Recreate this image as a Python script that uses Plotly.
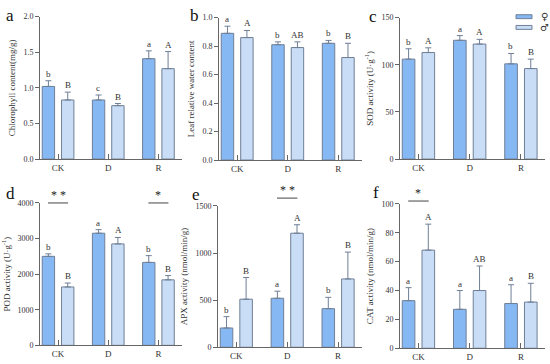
import plotly.graph_objects as go
from plotly.subplots import make_subplots

W, H = 550, 364
FEMALE = "#86b8f4"
MALE = "#c9ddf6"
EDGE = "#6f7f96"
SERIF = "Liberation Serif, Times New Roman, serif"

groups = ["CK", "D", "R"]

chl_f = [1.02, 0.83, 1.41]
chl_f_err = [0.08, 0.07, 0.11]
chl_m = [0.83, 0.75, 1.27]
chl_m_err = [0.11, 0.03, 0.24]

lwc_f = [0.89, 0.81, 0.82]
lwc_f_err = [0.05, 0.02, 0.02]
lwc_m = [0.86, 0.79, 0.72]
lwc_m_err = [0.05, 0.04, 0.10]

sod_f = [106, 126, 101]
sod_f_err = [11, 5, 11]
sod_m = [113, 122, 96]
sod_m_err = [5, 5, 10]

pod_f = [2500, 3150, 2330]
pod_f_err = [70, 100, 190]
pod_m = [1640, 2850, 1840]
pod_m_err = [110, 180, 120]

apx_f = [205, 520, 410]
apx_f_err = [120, 75, 120]
apx_m = [510, 1210, 725]
apx_m_err = [230, 90, 285]

cat_f = [33, 27, 31]
cat_f_err = [9, 13, 13]
cat_m = [68, 40, 32]
cat_m_err = [18, 17, 13]

panels = [
    dict(tag="a", f=chl_f, fe=chl_f_err, m=chl_m, me=chl_m_err,
         lf=["b", "c", "a"], lm=["B", "B", "A"], rng=[0, 2], dt=0.5, fmt=".1f",
         title="Chlorophyll content(mg/g)", sig=[]),
    dict(tag="b", f=lwc_f, fe=lwc_f_err, m=lwc_m, me=lwc_m_err,
         lf=["a", "b", "b"], lm=["A", "AB", "B"], rng=[0, 1], dt=0.2, fmt=".1f",
         title="Leaf relative water content", sig=[]),
    dict(tag="c", f=sod_f, fe=sod_f_err, m=sod_m, me=sod_m_err,
         lf=["b", "a", "b"], lm=["A", "A", "B"], rng=[0, 150], dt=50, fmt="d",
         title="SOD activity (U·g<sup>-1</sup>)", sig=[]),
    dict(tag="d", f=pod_f, fe=pod_f_err, m=pod_m, me=pod_m_err,
         lf=["b", "a", "b"], lm=["B", "A", "B"], rng=[0, 4000], dt=1000, fmt="d",
         title="POD activity (U·g<sup>-1</sup>)", sig=[(0, "* *", 1.0), (2, "*", 1.0)]),
    dict(tag="e", f=apx_f, fe=apx_f_err, m=apx_m, me=apx_m_err,
         lf=["b", "a", "b"], lm=["B", "A", "B"], rng=[0, 1500], dt=500, fmt="d",
         title="APX activity (nmol/min/g)", sig=[(1, "* *", 1.055)]),
    dict(tag="f", f=cat_f, fe=cat_f_err, m=cat_m, me=cat_m_err,
         lf=["a", "a", "a"], lm=["A", "AB", "B"], rng=[0, 100], dt=20, fmt="d",
         title="CAT activity (nmol/min/g)", sig=[(0, "*", 1.02)]),
]

# pixel boxes of each plot area: (left, right, top, bottom)
boxes = [(40, 182, 13, 159), (219, 362, 14, 160), (400, 545, 14, 159),
         (40, 182, 204, 350), (218, 362, 207, 352), (400, 545, 205, 353)]
letter_pos = [(10, 12), (194, 12), (373, 13), (10, 194), (196, 195), (376, 193)]

fig = make_subplots(rows=2, cols=3)
shapes, annots = [], []

for i, p in enumerate(panels):
    r, c = i // 3 + 1, i % 3 + 1
    ax = "" if i == 0 else str(i + 1)
    for vals, errs, col, name in [(p["f"], p["fe"], FEMALE, "♀"), (p["m"], p["me"], MALE, "♂")]:
        fig.add_trace(go.Bar(
            x=groups, y=vals, name=name, marker=dict(color=col, line=dict(color=EDGE, width=1)),
            error_y=dict(type="data", array=errs, arrayminus=[0] * 3, symmetric=False,
                         color=EDGE, thickness=1, width=3),
            showlegend=False), row=r, col=c)
    # significance letters above error bars
    for k, g in enumerate(groups):
        for off, vals, errs, labs in [(-0.195, p["f"], p["fe"], p["lf"]), (0.195, p["m"], p["me"], p["lm"])]:
            annots.append(dict(x=k + off, y=vals[k] + errs[k], xref="x" + ax, yref="y" + ax,
                               text=labs[k], showarrow=False, xanchor="center", yanchor="bottom",
                               font=dict(family=SERIF, size=9, color="#333")))
    for k, star, yy in p["sig"]:
        shapes.append(dict(type="line", xref="x" + ax, yref="y" + ax + " domain",
                           x0=k - 0.2, x1=k + 0.2, y0=yy, y1=yy, line=dict(color="#444", width=1)))
        annots.append(dict(x=k, y=yy, xref="x" + ax, yref="y" + ax + " domain", text=star,
                           showarrow=False, xanchor="center", yanchor="bottom", yshift=-1,
                           font=dict(family=SERIF, size=12, color="#222")))
    L, R, T, B = boxes[i]
    fig.update_xaxes(domain=[L / W, R / W], range=[-0.36, 2.47], showline=True, linecolor="#666",
                     linewidth=1, ticks="inside", ticklen=5, tickcolor="#666",
                     tickfont=dict(family=SERIF, size=9, color="#333"), row=r, col=c)
    fig.update_yaxes(domain=[1 - B / H, 1 - T / H], range=p["rng"], dtick=p["dt"], tickformat=p["fmt"],
                     showline=True, linecolor="#666", linewidth=1, ticks="outside", ticklen=4,
                     tickcolor="#666", showgrid=False, zeroline=False,
                     tickfont=dict(family=SERIF, size=8, color="#333"),
                     title=dict(text=p["title"], standoff=6, font=dict(family=SERIF, size=9, color="#333")),
                     row=r, col=c)
    lx, ly = letter_pos[i]
    annots.append(dict(x=lx / W, y=1 - ly / H, xref="paper", yref="paper", text=p["tag"],
                       showarrow=False, xanchor="center", yanchor="middle",
                       font=dict(family=SERIF, size=17, color="#111")))

# legend keys
for (y0, col, sym) in [(11, FEMALE, "♀"), (22, MALE, "♂")]:
    shapes.append(dict(type="rect", xref="paper", yref="paper", x0=516 / W, x1=532 / W,
                       y0=1 - (y0 + 4) / H, y1=1 - y0 / H, fillcolor=col, line=dict(color=EDGE, width=1)))
    annots.append(dict(x=544 / W, y=1 - (y0 + 2) / H, xref="paper", yref="paper", text=sym,
                       showarrow=False, xanchor="center", yanchor="middle",
                       font=dict(family="DejaVu Sans", size=10, color="#333")))

fig.update_layout(width=W, height=H, margin=dict(l=0, r=0, t=0, b=0), barmode="group",
                  bargap=0.23, bargroupgap=0.36, plot_bgcolor="white", paper_bgcolor="white",
                  shapes=shapes, annotations=annots)
fig.update_xaxes(showgrid=False)
fig.write_html("out.html", config={"displayModeBar": False},
               post_script="document.body.style.margin='0';document.body.style.overflow='hidden';")
